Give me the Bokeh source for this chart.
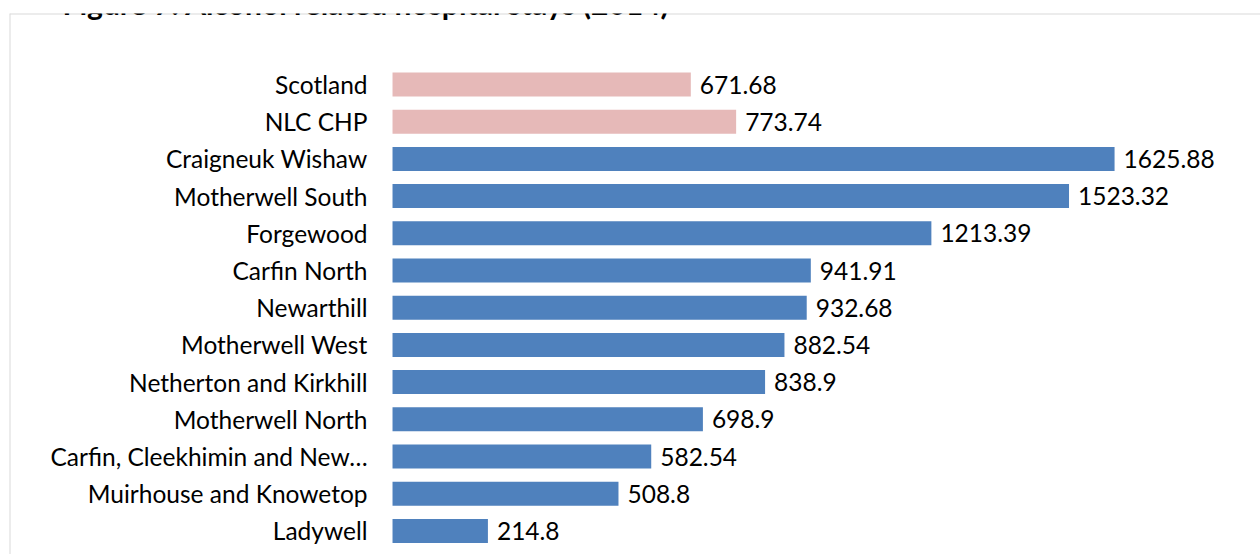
from bokeh.plotting import figure
from bokeh.models import Range1d, ColumnDataSource, Label, Span
from bokeh.core.properties import value
from bokeh.embed import file_html
from bokeh.resources import INLINE

title_text = "Figure 7: Alcohol related hospital stays (2014)"
categories = [
    "Scotland", "NLC CHP", "Craigneuk Wishaw", "Motherwell South", "Forgewood",
    "Carfin North", "Newarthill", "Motherwell West", "Netherton and Kirkhill",
    "Motherwell North", "Carfin, Cleekhimin and New\u2026", "Muirhouse and Knowetop",
    "Ladywell",
]
values = [671.68, 773.74, 1625.88, 1523.32, 1213.39, 941.91, 932.68, 882.54,
          838.9, 698.9, 582.54, 508.8, 214.8]
groups = ["comparator", "comparator"] + ["area"] * 11

PINK = "#e6b9b8"
BLUE = "#4f81bd"
BORDER = "#d9d9d9"
colors = [PINK if g == "comparator" else BLUE for g in groups]

src = ColumnDataSource(dict(
    cat=categories,
    pos=list(range(len(categories))),
    val=values,
    lab=[str(v) for v in values],
    zero=[0] * len(values),
    color=colors,
))

FONT = "Lato"
X0, X1 = -862.5, 1954.5
Y_BOTTOM, Y_TOP = 12.634, -1.909

p = figure(width=1252, height=554, output_backend="svg", toolbar_location=None,
           x_range=Range1d(X0, X1), y_range=Range1d(Y_BOTTOM, Y_TOP),
           min_border_left=1, min_border_right=0, min_border_top=13, min_border_bottom=0,
           x_axis_location=None, y_axis_location=None)
p.margin = (0, 0, 0, 8)
p.grid.visible = False
p.background_fill_color = "white"
p.border_fill_color = "white"
p.outline_line_color = None

# chart-area border (top and left; right and bottom edges are cut off in the reference)
p.add_layout(Span(location=Y_TOP, dimension="width", line_color=BORDER, line_width=2))
p.add_layout(Span(location=X0, dimension="height", line_color=BORDER, line_width=2))

p.hbar(y="pos", left=0, right="val", height=0.645, fill_color="color",
       line_color=None, source=src)

p.text(x="zero", y="pos", text="cat", source=src, x_offset=-25,
       text_align="right", text_baseline="middle", text_color="#000000",
       text_font=value(FONT), text_font_size="24.5px")

p.text(x="val", y="pos", text="lab", source=src, x_offset=9,
       text_align="left", text_baseline="middle", text_color="#000000",
       text_font=value(FONT), text_font_size="24.5px")

title = Label(x=53, y=552, x_units="screen", y_units="screen", text=title_text,
              text_font=FONT, text_font_size="30px", text_font_style="bold",
              text_color="#000000", text_align="left", text_baseline="alphabetic")
p.add_layout(title)

open("out.html", "w").write(file_html(p, INLINE))
